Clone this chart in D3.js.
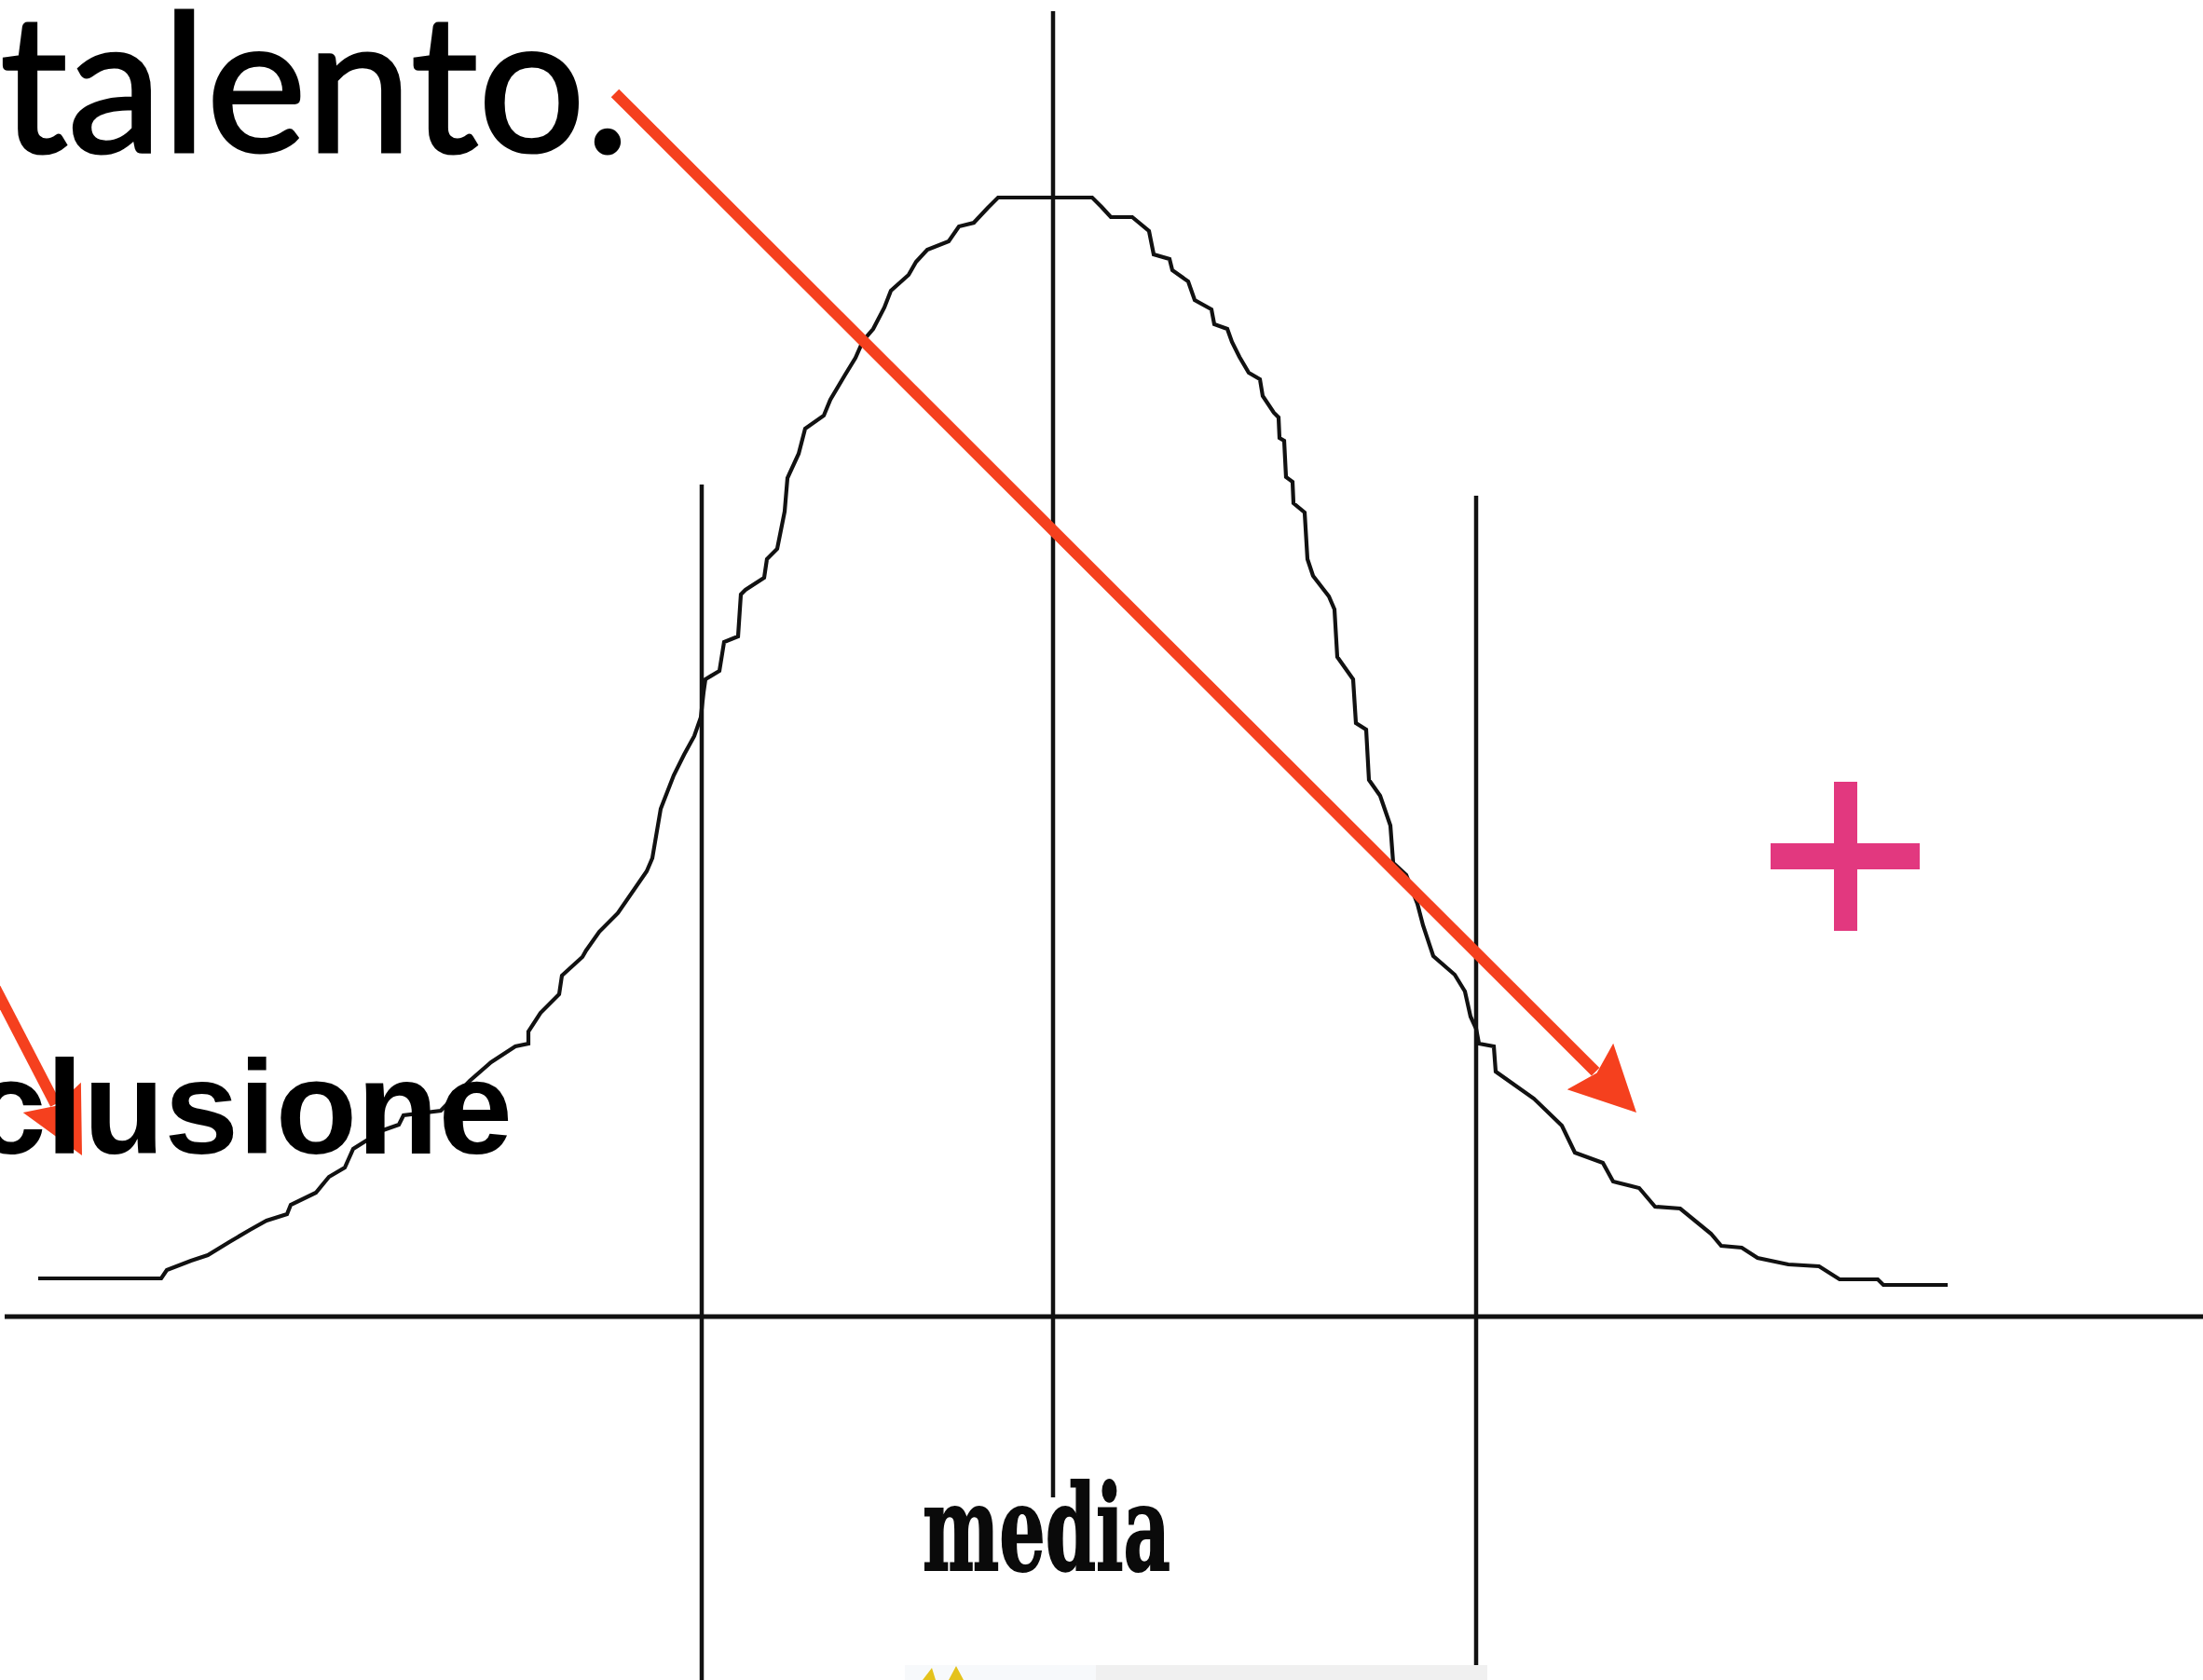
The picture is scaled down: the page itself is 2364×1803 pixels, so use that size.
<!DOCTYPE html>
<html>
<head>
<meta charset="utf-8">
<script src="https://cdn.jsdelivr.net/npm/d3@7"></script>
<style>
  html, body { margin: 0; padding: 0; background: #fff; overflow: hidden; }
</style>
</head>
<body>
<div id="chart"></div>
<script>
// stepped bell outline: talent score -> frequency
const curveScore = [
  -8.9, 4.3, 4.9, 7.5, 9.3, 11.6, 13.8, 15.6, 17.8, 18.2, 20.9, 22.3, 24.0, 24.9, 28.1, 29.8, 30.3, 34.3,
  37.4, 39.7, 42.3, 43.7, 43.7, 45.0, 47.0, 47.3, 49.5, 49.9, 51.3, 53.3, 56.4, 57.0, 57.9, 59.3, 60.4,
  61.5, 62.2, 62.5, 62.7, 64.2, 64.7, 66.2, 66.5, 67.0, 69.0, 69.3, 70.4, 71.2, 71.5, 72.7, 73.4, 75.4,
  76.1, 77.7, 78.8, 79.6, 80.7, 81.9, 82.6, 84.5, 85.3, 86.5, 88.8, 89.9, 91.5, 93.0, 94.1,
  104.2, 105.2, 106.2, 108.5, 110.3, 110.8, 112.5, 112.8, 114.5, 115.2, 117.0, 117.3, 118.7, 119.2, 120.0,
  121.0, 122.2, 122.5, 123.7, 124.2, 124.3, 124.8, 125.0, 125.7, 125.8, 127.0, 127.3, 127.9, 129.6, 130.2,
  130.5, 132.2, 132.5, 133.6, 133.9, 135.1, 136.2, 136.5, 137.9, 139.1, 139.7, 140.8, 143.1, 144.2, 144.8,
  145.4, 145.7, 147.3, 147.5, 151.6, 154.6, 156.0, 159.0, 160.1, 162.9, 164.6, 167.3, 170.6, 171.7, 173.9,
  175.6, 178.9, 182.2, 184.4, 188.5, 189.1, 196.0
];
const curveFreq = [
  4.1, 4.1, 5.0, 6.0, 6.6, 8.0, 9.3, 10.3, 11.0, 12.0, 13.3, 15.0, 16.0, 18.0, 20.0, 20.6, 21.6, 22.1,
  25.3, 27.3, 29.0, 29.3, 30.6, 32.6, 34.6, 36.6, 38.6, 39.3, 41.3, 43.3, 47.8, 49.2, 54.5, 58.1, 60.3,
  62.3, 64.3, 67.0, 68.4, 69.3, 72.4, 73.0, 77.5, 78.0, 79.3, 81.3, 82.4, 86.4, 90.0, 92.6, 95.3, 96.7,
  98.4, 101.1, 102.9, 104.7, 106.0, 108.3, 110.1, 111.8, 113.2, 114.5, 115.4, 117.0, 117.4, 119.0, 120.1,
  120.1, 119.1, 118.0, 118.0, 116.5, 114.0, 113.5, 112.3, 111.1, 109.1, 108.1, 106.5, 106.0, 104.6, 103.0,
  101.3, 100.6, 98.8, 97.0, 96.5, 94.3, 94.0, 90.1, 89.6, 87.3, 86.3, 81.3, 79.5, 77.3, 75.9,
  70.8, 68.4, 63.7, 63.0, 57.6, 55.9, 52.7, 48.7, 47.4, 44.3, 42.0, 38.7, 36.7, 34.9, 32.2,
  30.9, 29.3, 29.0, 26.3, 23.4, 20.5, 17.6, 16.5, 14.5, 13.8, 11.8, 11.6, 8.9, 7.6, 7.4,
  6.3, 5.6, 5.4, 4.0, 4.0, 3.4, 3.4
];

// vertical reference lines (low cut, mean, high cut)
const markScore = [62.3, 100, 145.4];
const markTop = [89.3, 140.1, 88.1];
const markBottom = [-39, -19.4, -37.4];

// horizontal axis extent
const axisScore = [-12.5, 224];

// annotations in chart units
const arrows = [
  { from: [53.0, 131.3], to: [162.6, 21.9] },
  { from: [-17.0, 42.0], to: [-4.2, 17.3] }
];
const plusAt = [185, 49.4];

const svgWidth = 2364;
const svgHeight = 1803;
const ink = "#111";
const red = "#f5401e";
const pink = "#e2387f";

const xScale = d3.scaleLinear().domain([0, 250]).range([130, 2630]);
const yScale = d3.scaleLinear().domain([0, 120]).range([1413, 213]);

const svg = d3.select("#chart")
  .append("svg")
  .attr("width", svgWidth)
  .attr("height", svgHeight)
  .style("display", "block");

svg.append("rect").attr("width", svgWidth).attr("height", svgHeight).attr("fill", "#fff");

// clipped picture strip at the bottom
svg.append("rect")
  .attr("x", 971).attr("y", 1787).attr("width", 625).attr("height", 16)
  .attr("fill", "#f0f0f0");
svg.append("rect")
  .attr("x", 971).attr("y", 1787).attr("width", 205).attr("height", 16)
  .attr("fill", "#f7f9fb");
svg.append("path")
  .attr("d", "M990,1803 L1000,1790 L1004,1803 Z M1018,1803 L1026,1788 L1034,1803 Z")
  .attr("fill", "#e4c21c");

// axis
svg.append("line")
  .attr("x1", xScale(axisScore[0])).attr("x2", xScale(axisScore[1]))
  .attr("y1", yScale(0)).attr("y2", yScale(0))
  .attr("stroke", ink).attr("stroke-width", 5);

// vertical markers
svg.selectAll(".mark")
  .data(markScore)
  .enter().append("line")
    .attr("class", "mark")
    .attr("x1", d => xScale(d)).attr("x2", d => xScale(d))
    .attr("y1", (d, i) => yScale(markTop[i]))
    .attr("y2", (d, i) => yScale(markBottom[i]))
    .attr("stroke", ink).attr("stroke-width", 4.5);

// bell outline
const curveData = curveScore.map((s, i) => ({ score: s, freq: curveFreq[i] }));
const line = d3.line()
  .x(d => xScale(d.score))
  .y(d => yScale(d.freq))
  .curve(d3.curveLinear);

svg.append("path")
  .datum(curveData)
  .attr("d", line)
  .attr("fill", "none")
  .attr("stroke", ink)
  .attr("stroke-width", 4.2)
  .attr("stroke-linejoin", "miter");

// red arrows
const headLen = 70, headHalf = 35;
arrows.forEach(a => {
  const x1 = xScale(a.from[0]), y1 = yScale(a.from[1]);
  const x2 = xScale(a.to[0]), y2 = yScale(a.to[1]);
  const len = Math.hypot(x2 - x1, y2 - y1);
  const ux = (x2 - x1) / len, uy = (y2 - y1) / len;
  const bx = x2 - ux * headLen, by = y2 - uy * headLen;
  svg.append("line")
    .attr("x1", x1).attr("y1", y1)
    .attr("x2", bx + ux * 8).attr("y2", by + uy * 8)
    .attr("stroke", red).attr("stroke-width", 12);
  svg.append("path")
    .attr("d", "M" + x2 + "," + y2 +
      "L" + (bx - uy * headHalf) + "," + (by + ux * headHalf) +
      "L" + (bx + ux * 10) + "," + (by + uy * 10) +
      "L" + (bx + uy * headHalf) + "," + (by - ux * headHalf) + "Z")
    .attr("fill", red);
});

// pink plus
const px = xScale(plusAt[0]), py = yScale(plusAt[1]);
svg.append("rect").attr("x", px - 80).attr("y", py - 14).attr("width", 160).attr("height", 28).attr("fill", pink);
svg.append("rect").attr("x", px - 12).attr("y", py - 80).attr("width", 25).attr("height", 160).attr("fill", pink);

// texts
svg.append("text")
  .attr("x", 0).attr("y", 163)
  .attr("textLength", 676).attr("lengthAdjust", "spacingAndGlyphs")
  .style("font-family", "Lato, 'Open Sans', sans-serif")
  .style("font-weight", 400)
  .style("font-size", "205px")
  .attr("fill", "#000")
  .attr("stroke", "#000")
  .attr("stroke-width", 3)
  .text("talento.");

svg.append("text")
  .attr("x", 550).attr("y", 1238)
  .attr("text-anchor", "end")
  .style("font-family", "'Liberation Sans', Arial, sans-serif")
  .style("font-weight", 700)
  .style("font-size", "143px")
  .attr("fill", "#000")
  .text("clusione");

svg.append("text")
  .attr("x", 990).attr("y", 1685)
  .attr("textLength", 266).attr("lengthAdjust", "spacingAndGlyphs")
  .style("font-family", "'DejaVu Serif Condensed', 'DejaVu Serif', serif")
  .style("font-weight", 700)
  .style("font-size", "128px")
  .attr("fill", "#0a0a0a")
  .attr("stroke", "#0a0a0a")
  .attr("stroke-width", 2)
  .text("media");
</script>
</body>
</html>
